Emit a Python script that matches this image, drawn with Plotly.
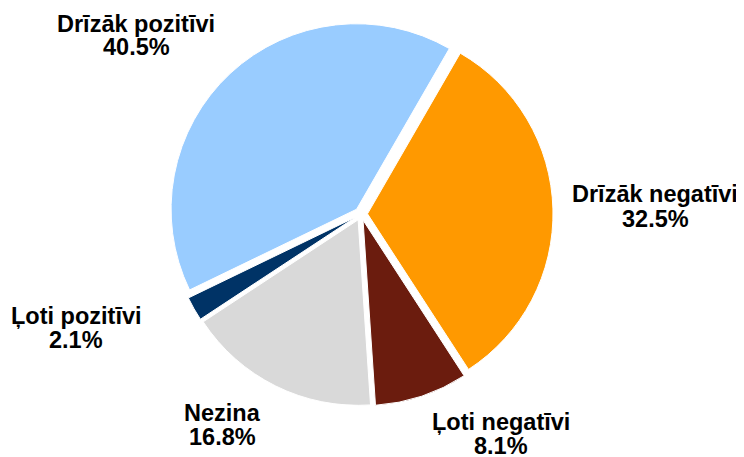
import plotly.graph_objects as go

labels = ["Drīzāk negatīvi", "Ļoti negatīvi", "Nezina", "Ļoti pozitīvi", "Drīzāk pozitīvi"]
values = [32.5, 8.1, 16.8, 2.1, 40.5]
colors = ["#FF9900", "#6B1C0E", "#D9D9D9", "#003366", "#99CCFF"]

# label centres in window pixels (x, y of first line)
label_pos = [(655, 194.5), (501, 422), (222, 412.5), (76, 316), (136, 23.5)]

# the page body has an 8px margin, so the figure is drawn 8px in from the window corner
OFF = 8
W, H = 744 - OFF, 457 - OFF
cx, cy, R = 361 - OFF, 214 - OFF, 192

fig = go.Figure(go.Pie(
    labels=labels,
    values=values,
    sort=False,
    direction="clockwise",
    rotation=30,
    pull=[0.035] * len(values),
    marker=dict(colors=colors, line=dict(color="white", width=1)),
    textinfo="none",
    hoverinfo="label+percent",
    domain=dict(x=[(cx - R) / W, (cx + R) / W], y=[1 - (cy + R) / H, 1 - (cy - R) / H]),
))

font = dict(family="Liberation Sans, Arial, sans-serif", size=23.5, color="black")
for lab, val, (px_, py_) in zip(labels, values, label_pos):
    for line, dy in [("<b>%s</b>" % lab, 0), ("<b>%.1f%%</b>" % val, 24)]:
        fig.add_annotation(text=line, x=(px_ - OFF) / W, y=1 - (py_ - OFF + dy) / H,
                           xref="paper", yref="paper", xanchor="center", yanchor="middle",
                           showarrow=False, font=font)

fig.update_layout(width=W, height=H, margin=dict(l=0, r=0, t=0, b=0),
                  showlegend=False, paper_bgcolor="white", plot_bgcolor="white")

fig.write_html("out.html")
